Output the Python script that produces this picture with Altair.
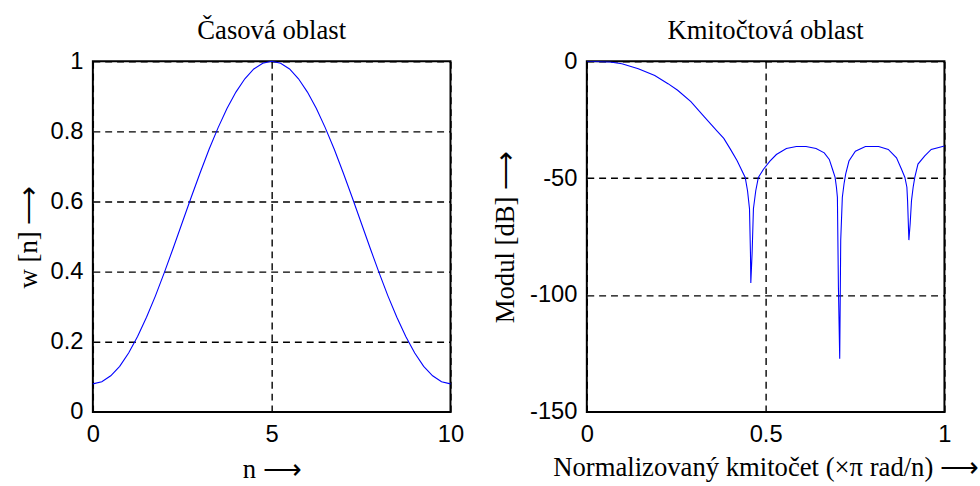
import altair as alt
import pandas as pd

# ---- time domain (left panel) ----
n_vals = [0, 0.25, 0.5, 0.75, 1, 1.25, 1.5, 1.75, 2, 2.25, 2.5, 2.75, 3, 3.25, 3.5, 3.75, 4, 4.25, 4.5, 4.75, 5,
          5.25, 5.5, 5.75, 6, 6.25, 6.5, 6.75, 7, 7.25, 7.5, 7.75, 8, 8.25, 8.5, 8.75, 9, 9.25, 9.5, 9.75, 10]
w_vals = [0.08, 0.086, 0.103, 0.130, 0.168, 0.215, 0.270, 0.331, 0.398, 0.468, 0.54, 0.612, 0.682, 0.749, 0.810,
          0.865, 0.912, 0.950, 0.978, 0.994, 1.0,
          0.994, 0.978, 0.950, 0.912, 0.865, 0.810, 0.749, 0.682, 0.612, 0.54, 0.468, 0.398, 0.331, 0.270,
          0.215, 0.168, 0.130, 0.103, 0.086, 0.08]

# ---- frequency domain (right panel) ----
f_vals = [0, 0.065, 0.098, 0.144, 0.19, 0.227, 0.254, 0.291, 0.328, 0.365, 0.383, 0.401, 0.42,
          0.4429, 0.4494, 0.4549, 0.4576, 0.4586, 0.4622, 0.4659, 0.4724, 0.4797,
          0.494, 0.512, 0.53, 0.558, 0.586, 0.613, 0.641, 0.664, 0.678, 0.687,
          0.6943, 0.698, 0.7007, 0.7035, 0.7072, 0.71, 0.7145, 0.7192, 0.7238,
          0.733, 0.751, 0.779, 0.816, 0.843, 0.866, 0.88,
          0.8895, 0.895, 0.8969, 0.9006, 0.9042, 0.9079, 0.9125, 0.9171,
          0.926, 0.945, 0.963, 1.0]
db_vals = [0, -0.3, -1.1, -3.2, -6.1, -9.6, -12.4, -17.3, -23.7, -30.0, -33.0, -37.5, -42.5,
           -49.7, -55.4, -63.1, -82.1, -94.8, -82.1, -63.1, -55.4, -49.7,
           -46.2, -42.7, -39.9, -37.3, -36.5, -36.5, -37.3, -39.2, -42.0, -46.2,
           -49.7, -53.9, -58.2, -96.2, -127.2, -76.5, -58.2, -52.5, -48.3,
           -42.7, -38.5, -36.5, -36.5, -37.7, -41.3, -46.2,
           -49.7, -53.9, -59.6, -76.5, -69.4, -59.6, -53.9, -49.7,
           -44.0, -40.5, -37.7, -36.3]

left_x_ticks = [0, 5, 10]
left_y_ticks = [0, 0.2, 0.4, 0.6, 0.8, 1]
right_x_ticks = [0, 0.5, 1]
right_y_ticks = [0, -50, -100, -150]

df_t = pd.DataFrame({"n": n_vals, "w": w_vals})
df_f = pd.DataFrame({"f": f_vals, "db": db_vals})

BLUE = "#0000ff"
DASH = [7, 5]


def ax(values, title, **kw):
    return alt.Axis(values=values, title=title, grid=True, gridColor="black", gridDash=DASH,
                    gridWidth=1.4, gridOpacity=1, ticks=False, domain=False,
                    labelFlush=False, labelOverlap=False,
                    labelExpr="'' + datum.value", **kw)


left = alt.Chart(df_t).mark_line(color=BLUE, strokeWidth=1.1).encode(
    x=alt.X("n:Q", scale=alt.Scale(domain=[0, 10], nice=False, zero=False),
            axis=ax(left_x_ticks, "n ⟶", labelPadding=11, titlePadding=10)),
    y=alt.Y("w:Q", scale=alt.Scale(domain=[0, 1], nice=False),
            axis=ax(left_y_ticks, "w [n] ⟶", labelPadding=10, titlePadding=8)),
).properties(width=362, height=355,
             title=alt.TitleParams("Časová oblast", offset=4))

right = alt.Chart(df_f).mark_line(color=BLUE, strokeWidth=1.1, clip=True).encode(
    x=alt.X("f:Q", scale=alt.Scale(domain=[0, 1], nice=False, zero=False),
            axis=ax(right_x_ticks, "Normalizovaný kmitočet (×π rad/n) ⟶", labelPadding=11, titlePadding=8)),
    y=alt.Y("db:Q", scale=alt.Scale(domain=[-150, 0], nice=False),
            axis=ax(right_y_ticks, "Modul [dB] ⟶", labelPadding=10, titlePadding=10)),
).properties(width=362, height=355,
             title=alt.TitleParams("Kmitočtová oblast", offset=4))

chart = alt.hconcat(left, right, spacing=25).properties(
    padding={"left": 13, "top": 14, "right": 0, "bottom": 0},
    background="white",
).configure_view(
    stroke="black", strokeWidth=2
).configure_axis(
    labelFont="Liberation Sans", labelFontSize=24, labelColor="black",
    titleFont="Liberation Serif", titleFontSize=27, titleFontWeight="normal", titleColor="black",
).configure_title(
    font="Liberation Serif", fontSize=27, fontWeight="normal", color="black", anchor="middle"
)

chart.save("out.html", embed_options={"renderer": "svg", "actions": False})
